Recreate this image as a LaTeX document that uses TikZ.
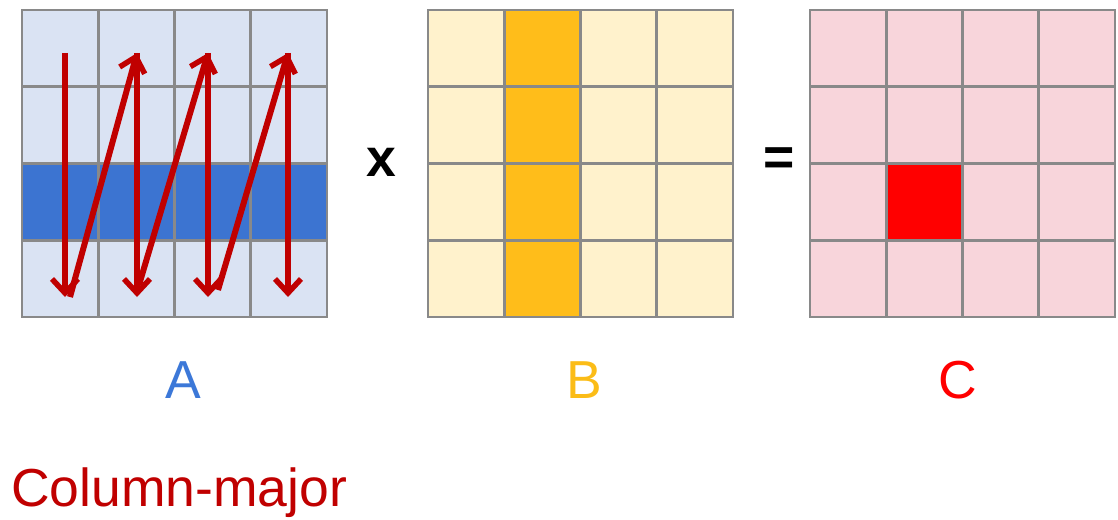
\documentclass[tikz,border=0pt]{standalone}
\usepackage{fontspec}
\setmainfont{Liberation Sans}
\usetikzlibrary{arrows.meta}
\definecolor{lightA}{HTML}{DAE3F3}
\definecolor{darkA}{HTML}{3C74D1}
\definecolor{lightB}{HTML}{FFF2CC}
\definecolor{darkB}{HTML}{FFBD1A}
\definecolor{lightC}{HTML}{F8D5DB}
\definecolor{darkC}{HTML}{FF0000}
\definecolor{gridgray}{HTML}{898989}
\definecolor{zigred}{HTML}{C00000}
\definecolor{labA}{HTML}{3C78D8}
\definecolor{labB}{HTML}{FBBC17}

\begin{document}
\begin{tikzpicture}[x=1pt,y=-1pt,
    cell/.style={draw=gridgray,line width=2.8pt,minimum width=76.25pt,minimum height=76.75pt,inner sep=0pt},
    zig/.style={draw=zigred,line width=6pt,-{Straight Barb[length=14pt,width=26pt,line width=5.5pt]}},
    big/.style={font=\fontsize{53.5}{60}\selectfont,inner sep=0pt,anchor=base}]
    \useasboundingbox (0,0) rectangle (1118,519);

    % A: third row dark
    \foreach \r in {1,...,4} \foreach \c in {1,...,4} {
        \ifnum\r=3 \def\cellcol{darkA}\else\def\cellcol{lightA}\fi
        \node[cell,fill=\cellcol] (A-\r-\c) at ({22+76.25*(\c-0.5)},{10+76.75*(\r-0.5)}) {};
    }
    % B: second column dark
    \foreach \r in {1,...,4} \foreach \c in {1,...,4} {
        \ifnum\c=2 \def\cellcol{darkB}\else\def\cellcol{lightB}\fi
        \node[cell,fill=\cellcol] (B-\r-\c) at ({428+76.25*(\c-0.5)},{10+76.75*(\r-0.5)}) {};
    }
    % C: one dark cell
    \foreach \r in {1,...,4} \foreach \c in {1,...,4} {
        \def\cellcol{lightC}
        \ifnum\r=3 \ifnum\c=2 \def\cellcol{darkC}\fi\fi
        \node[cell,fill=\cellcol] (C-\r-\c) at ({810+76.25*(\c-0.5)},{10+76.75*(\r-0.5)}) {};
    }

    \coordinate (t1) at (65,53);  \coordinate (b1) at (65,297);
    \coordinate (t2) at (137,53); \coordinate (b2) at (137,297);
    \coordinate (t3) at (208,53); \coordinate (b3) at (208,297);
    \coordinate (t4) at (288,53); \coordinate (b4) at (288,297);
    \coordinate (s1) at (70,297); \coordinate (s2) at (139,285); \coordinate (s3) at (218,290);
    \draw[zig] (t1) -- (b1);
    \draw[zig] (s1) -- (t2);
    \draw[zig] (t2) -- (b2);
    \draw[zig] (s2) -- (t3);
    \draw[zig] (t3) -- (b3);
    \draw[zig] (s3) -- (t4);
    \draw[zig] (t4) -- (b4);

    \node[big,font=\fontsize{53.5}{60}\selectfont\bfseries] (times) at (381,176) {x};
    \node[big,font=\fontsize{53.5}{60}\selectfont\bfseries] (equals) at (779,175) {=};
    \node[big,text=labA] (nameA) at (183,398) {A};
    \node[big,text=labB] (nameB) at (584,398) {B};
    \node[big,text=darkC] (nameC) at (958,398) {C};
    \node[big,anchor=base west,text=zigred] (order) at (11,506) {Column-major};
\end{tikzpicture}
\end{document}
